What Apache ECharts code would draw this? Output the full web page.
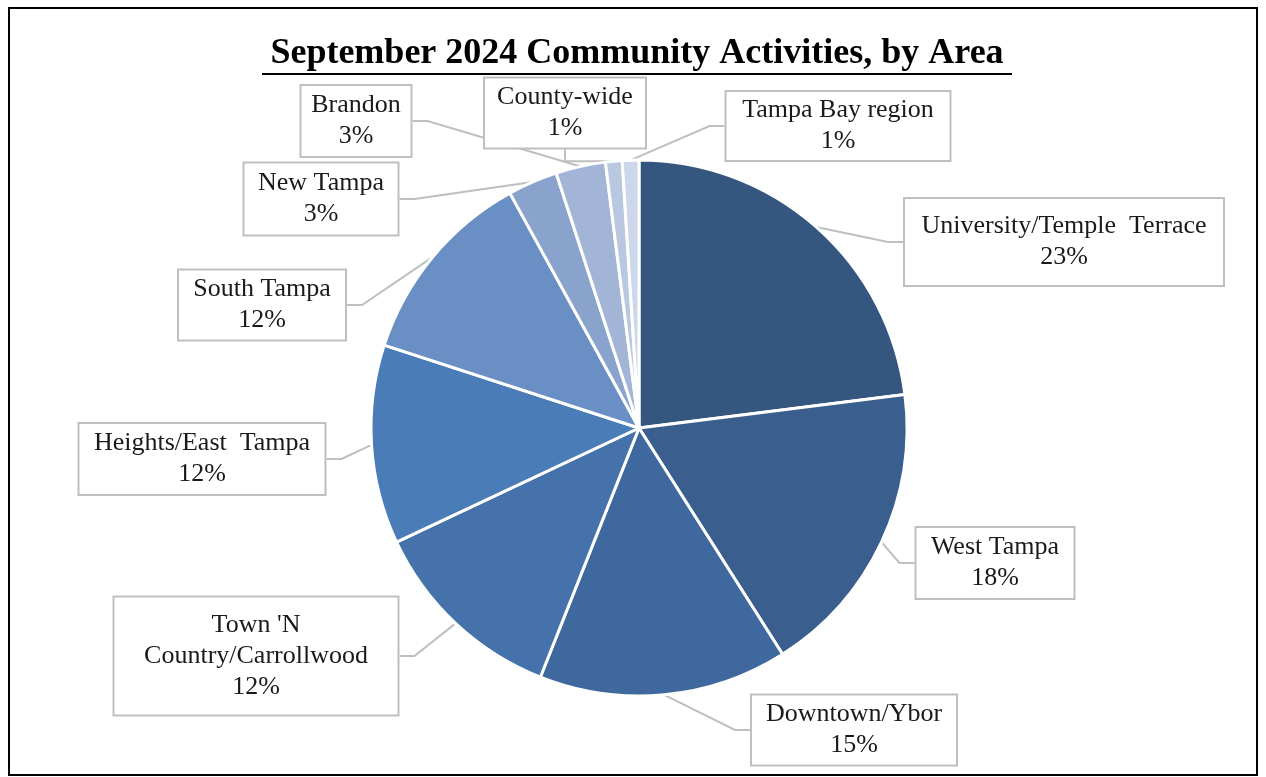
<!DOCTYPE html>
<html>
<head>
<meta charset="utf-8">
<script src="https://cdn.jsdelivr.net/npm/echarts@6/dist/echarts.min.js"></script>
<style>
html,body{margin:0;padding:0;background:#fff;}
#main{width:1266px;height:777px;}
</style>
</head>
<body>
<div id="main"></div>
<script>
// ---- data ----
var areas = ['University/Temple  Terrace', 'West Tampa', 'Downtown/Ybor', "Town 'N\nCountry/Carrollwood", 'Heights/East  Tampa', 'South Tampa', 'New Tampa', 'Brandon', 'County-wide', 'Tampa Bay region'];
var shares = [23, 18, 15, 12, 12, 12, 3, 3, 1, 1];
var titleText = 'September 2024 Community Activities, by Area';

// ---- style / layout (not data) ----
var colors = ['#34567F', '#3A5F8E', '#3F699E', '#4572AB', '#4A7CB8', '#6A8FC4', '#8AA3CD', '#A3B5D7', '#B9C7E1', '#CDD7EB'];
var labelCenters = [[1064, 242], [995, 563], [854, 730], [256, 656], [202, 459], [262, 305], [321, 199], [356, 121], [565, 113], [838, 126]];
var boxSizes = [[322, 90], [161, 74], [208, 73], [287, 121], [249, 74], [170, 73], [157, 75], [113, 74], [164, 73], [227, 72]];
var PADH = 6, PADV = 4, BW = 2;

var chart = echarts.init(document.getElementById('main'), null, {renderer: 'canvas'});

var seriesData = areas.map(function (n, i) {
  return {
    name: n,
    value: shares[i],
    itemStyle: {color: colors[i]},
    label: {
      width: boxSizes[i][0] - 2 * PADH - 2 * BW,
      height: boxSizes[i][1] - 2 * PADV - 2 * BW
    }
  };
});

chart.setOption({
  animation: false,
  graphic: [
    {type: 'rect', shape: {x: 9, y: 8, width: 1248, height: 767}, style: {fill: 'none', stroke: '#000', lineWidth: 2}, z: 0},
    {type: 'text', x: 637, y: 54, style: {text: titleText, font: 'bold 36px "Liberation Serif", "Times New Roman", serif', fill: '#000', textAlign: 'center', textVerticalAlign: 'middle', verticalAlign: 'middle'}},
    {type: 'line', shape: {x1: 262, y1: 74, x2: 1012, y2: 74}, style: {stroke: '#000', lineWidth: 2}}
  ],
  series: [{
    type: 'pie',
    center: [639, 428],
    radius: 268,
    startAngle: 90,
    clockwise: true,
    data: seriesData,
    itemStyle: {borderColor: '#fff', borderWidth: 3},
    label: {
      show: true,
      position: 'outside',
      formatter: '{b}\n{d}%',
      fontFamily: '"Liberation Serif", "Times New Roman", serif',
      fontSize: 26,
      lineHeight: 31,
      color: '#1a1a1a',
      align: 'center',
      verticalAlign: 'middle',
      overflow: 'none',
      backgroundColor: '#fff',
      borderColor: '#BFBFBF',
      borderWidth: BW,
      padding: [PADV, PADH]
    },
    labelLine: {
      show: true,
      length: 15,
      length2: 15,
      lineStyle: {color: '#BFBFBF', width: 2}
    },
    labelLayout: function (params) {
      var c = labelCenters[params.dataIndex];
      return {x: c[0], y: c[1], align: 'center', verticalAlign: 'middle'};
    },
    emphasis: {disabled: true}
  }]
});
</script>
</body>
</html>
